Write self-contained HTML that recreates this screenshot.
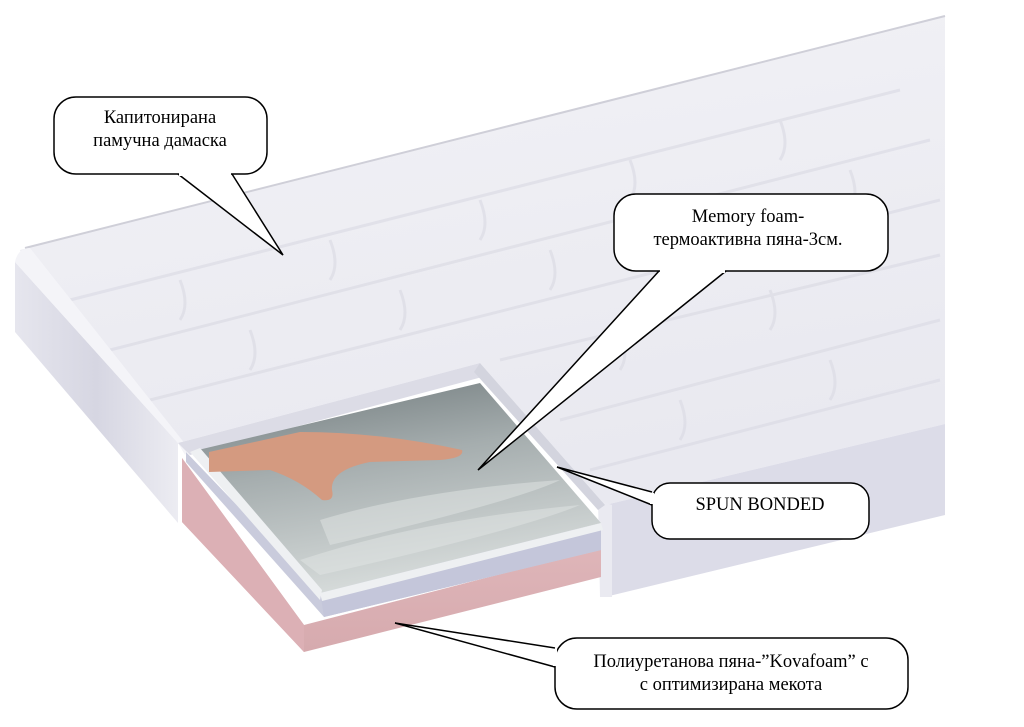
<!DOCTYPE html>
<html><head><meta charset="utf-8"><style>
html,body{margin:0;padding:0;background:#fff;}
svg{display:block;}
text{font-family:"Liberation Serif",serif;font-size:18.5px;fill:#000;}
</style></head><body>
<svg width="1024" height="727" viewBox="0 0 1024 727" xmlns="http://www.w3.org/2000/svg">
<defs>
<linearGradient id="top" x1="0" y1="0" x2="0.3" y2="1">
<stop offset="0" stop-color="#f2f2f6"/><stop offset="1" stop-color="#e9e9f0"/></linearGradient>
<linearGradient id="side" x1="0" y1="0" x2="1" y2="0">
<stop offset="0" stop-color="#e6e6ee"/><stop offset="0.5" stop-color="#d6d6e2"/><stop offset="1" stop-color="#ececf2"/></linearGradient>
<linearGradient id="foam" x1="0" y1="0" x2="0.3" y2="1">
<stop offset="0" stop-color="#6f797b"/><stop offset="0.45" stop-color="#a5adae"/><stop offset="1" stop-color="#d5dad9"/></linearGradient>
<linearGradient id="pink" x1="0" y1="0" x2="0" y2="1">
<stop offset="0" stop-color="#e6bfc2"/><stop offset="1" stop-color="#d6aaae"/></linearGradient>
</defs>
<polygon points="20,250 945,16 945,424 605,505 480,363 178,443 25,265" fill="url(#top)"/>
<g stroke="#dcdce5" stroke-width="3" fill="none" opacity="0.7">
<path d="M70,300 L900,90 M110,350 L930,140 M150,400 L940,200 M500,360 L940,255 M560,420 L940,320 M590,470 L940,380"/>
<path d="M180,280 q10,25 0,40 M330,240 q10,25 0,40 M480,200 q10,25 0,40 M630,160 q10,25 0,40 M780,120 q10,25 0,40 M250,330 q10,25 0,40 M400,290 q10,25 0,40 M550,250 q10,25 0,40 M700,210 q10,25 0,40 M850,170 q10,25 0,40 M620,330 q10,25 0,40 M770,290 q10,25 0,40 M680,400 q10,25 0,40 M830,360 q10,25 0,40"/>
</g>
<polyline points="25,248 945,16" stroke="#cfcfd8" stroke-width="2" fill="none"/>
<polygon points="15,262 178,443 178,523 15,332" fill="url(#side)"/>
<path d="M15,262 Q18,248 30,248 L182,440 Q190,448 185,455 L178,443 Z" fill="#f4f4f8"/>
<polygon points="178,443 480,363 486,376 190,455" fill="#dcdce6"/>
<polygon points="605,505 945,424 945,515 605,597" fill="#dcdce8"/>
<polygon points="598,500 612,505 612,597 600,597" fill="#eaeaf1"/>
<polygon points="480,363 605,505 598,510 474,372" fill="#d3d4de"/>
<polygon points="182,458 304,625 601,548 601,577 304,652 182,522" fill="url(#pink)"/>
<polygon points="182,458 304,625 304,652 182,522" fill="#dcb0b5"/>
<polygon points="186,452 320,592 601,523 601,550 324,617 186,462" fill="#c9cbdc"/>
<polygon points="320,592 601,523 601,550 324,617" fill="#c4c6da"/>
<polygon points="198,450 480,383 601,523 320,593" fill="url(#foam)"/>
<polygon points="190,452 200,448 322,590 320,600" fill="#eef0f2"/>
<polygon points="320,593 601,523 603,530 322,601" fill="#eef0f2"/>
<g fill="#e2e6e5" opacity="0.5">
<path d="M320,520 Q420,490 560,480 Q520,500 330,545 Z"/>
<path d="M300,560 Q420,520 580,505 Q520,530 320,575 Z"/>
</g>
<path d="M209,452 L300,432 Q380,432 462,450 Q465,458 440,460 L370,462 Q330,470 332,490 Q335,502 322,500 Q300,480 270,470 L209,472 Z" fill="#d49a80"/>
<path d="M178,174 L283,255 L232,174" fill="#fff" stroke="#000" stroke-width="1.5"/>
<rect x="54" y="97" width="213" height="77" rx="22" fill="#fff" stroke="#000" stroke-width="1.5"/>
<rect x="179" y="172" width="52" height="4" fill="#fff"/>
<text x="160" y="123" text-anchor="middle">Капитонирана</text>
<text x="160" y="146" text-anchor="middle">памучна дамаска</text>
<path d="M659,271 L478,470 L726,271" fill="#fff" stroke="#000" stroke-width="1.5"/>
<rect x="614" y="194" width="274" height="77" rx="22" fill="#fff" stroke="#000" stroke-width="1.5"/>
<rect x="660" y="269" width="65" height="4" fill="#fff"/>
<text x="748" y="222" text-anchor="middle">Memory foam-</text>
<text x="748" y="245" text-anchor="middle">термоактивна пяна-3см.</text>
<path d="M652,492 L557,467 L652,505" fill="#fff" stroke="#000" stroke-width="1.5"/>
<rect x="652" y="483" width="217" height="56" rx="18" fill="#fff" stroke="#000" stroke-width="1.5"/>
<rect x="650" y="493" width="4" height="11" fill="#fff"/>
<text x="760" y="510" text-anchor="middle">SPUN BONDED</text>
<path d="M555,648 L395,623 L555,667" fill="#fff" stroke="#000" stroke-width="1.5"/>
<rect x="555" y="638" width="353" height="71" rx="22" fill="#fff" stroke="#000" stroke-width="1.5"/>
<rect x="553" y="649" width="4" height="17" fill="#fff"/>
<text x="731" y="667" text-anchor="middle">Полиуретанова пяна-”Kovafoam” с</text>
<text x="731" y="690" text-anchor="middle">с оптимизирана мекота</text>
</svg>
</body></html>
